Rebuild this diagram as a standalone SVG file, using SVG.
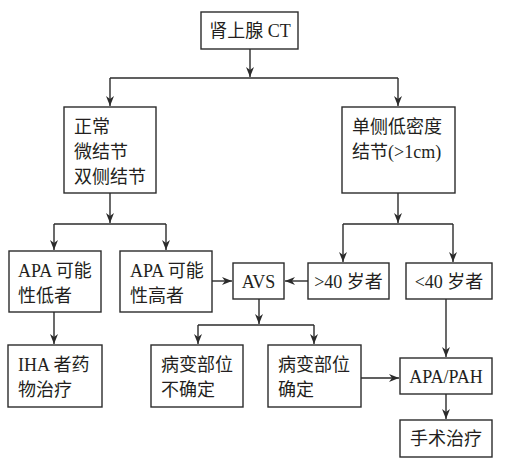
<svg xmlns="http://www.w3.org/2000/svg" width="507" height="467" viewBox="0 0 507 467">
<style>
  .box { fill: #ffffff; stroke: #2b2b2b; stroke-width: 1.4; }
  .ln { fill: none; stroke: #2b2b2b; stroke-width: 1.4; }
  .t { font-family: "Liberation Serif", "Noto Sans CJK SC", serif; font-size: 18px; fill: #231f20; }
  .c { text-anchor: middle; }
</style>
<defs>
  <marker id="ah" viewBox="0 0 10 8" refX="10" refY="4" markerWidth="10" markerHeight="8" markerUnits="userSpaceOnUse" orient="auto">
    <path d="M0,0 L10,4 L0,8 L3,4 Z" fill="#2b2b2b"/>
  </marker>
</defs>
<rect width="507" height="467" fill="#ffffff"/>
<g id="connectors">
  <path class="ln" d="M250,49 V77" marker-end="url(#ah)"/>
  <path class="ln" d="M110,78 H398"/>
  <path class="ln" d="M110,78 V106" marker-end="url(#ah)"/>
  <path class="ln" d="M398,78 V106" marker-end="url(#ah)"/>
  <path class="ln" d="M110,193 V223" marker-end="url(#ah)"/>
  <path class="ln" d="M54,224 H166"/>
  <path class="ln" d="M54,224 V250" marker-end="url(#ah)"/>
  <path class="ln" d="M166,224 V250" marker-end="url(#ah)"/>
  <path class="ln" d="M398,193 V223" marker-end="url(#ah)"/>
  <path class="ln" d="M343,224 H453"/>
  <path class="ln" d="M343,224 V262" marker-end="url(#ah)"/>
  <path class="ln" d="M453,224 V262" marker-end="url(#ah)"/>
  <path class="ln" d="M212,281 H232" marker-end="url(#ah)"/>
  <path class="ln" d="M308,281 H285" marker-end="url(#ah)"/>
  <path class="ln" d="M259,299 V324" marker-end="url(#ah)"/>
  <path class="ln" d="M198,325 H314"/>
  <path class="ln" d="M198,325 V344" marker-end="url(#ah)"/>
  <path class="ln" d="M314,325 V344" marker-end="url(#ah)"/>
  <path class="ln" d="M54,312 V344" marker-end="url(#ah)"/>
  <path class="ln" d="M446,299 V357" marker-end="url(#ah)"/>
  <path class="ln" d="M361,378 H399" marker-end="url(#ah)"/>
  <path class="ln" d="M446,394 V419" marker-end="url(#ah)"/>
</g>
<g id="n-ct">
  <rect class="box" x="201" y="12" width="97" height="37"/>
  <text class="t c" x="250" y="37">肾上腺 CT</text>
</g>
<g id="n-normal">
  <rect class="box" x="64" y="107" width="92" height="86"/>
  <text class="t" x="74" y="133">正常</text>
  <text class="t" x="74" y="158">微结节</text>
  <text class="t" x="74" y="183">双侧结节</text>
</g>
<g id="n-unilateral">
  <rect class="box" x="342" y="107" width="113" height="86"/>
  <text class="t" x="352" y="133">单侧低密度</text>
  <text class="t" x="352" y="158">结节(&gt;1cm)</text>
</g>
<g id="n-apa-low">
  <rect class="box" x="9" y="251" width="92" height="61"/>
  <text class="t" x="18" y="277">APA 可能</text>
  <text class="t" x="18" y="302">性低者</text>
</g>
<g id="n-apa-high">
  <rect class="box" x="120" y="251" width="92" height="61"/>
  <text class="t" x="130" y="277">APA 可能</text>
  <text class="t" x="130" y="302">性高者</text>
</g>
<g id="n-avs">
  <rect class="box" x="233" y="263" width="51" height="36"/>
  <text class="t c" x="258.5" y="288">AVS</text>
</g>
<g id="n-gt40">
  <rect class="box" x="308" y="263" width="81" height="36"/>
  <text class="t c" x="348.5" y="288">&gt;40 岁者</text>
</g>
<g id="n-lt40">
  <rect class="box" x="406" y="263" width="86" height="36"/>
  <text class="t c" x="449" y="288">&lt;40 岁者</text>
</g>
<g id="n-iha">
  <rect class="box" x="8" y="345" width="94" height="62"/>
  <text class="t" x="18" y="371">IHA 者药</text>
  <text class="t" x="18" y="396">物治疗</text>
</g>
<g id="n-uncertain">
  <rect class="box" x="151" y="345" width="92" height="62"/>
  <text class="t" x="161" y="371">病变部位</text>
  <text class="t" x="161" y="396">不确定</text>
</g>
<g id="n-certain">
  <rect class="box" x="268" y="345" width="93" height="62"/>
  <text class="t" x="278" y="371">病变部位</text>
  <text class="t" x="278" y="396">确定</text>
</g>
<g id="n-apapah">
  <rect class="box" x="400" y="358" width="92" height="36"/>
  <text class="t c" x="446" y="383">APA/PAH</text>
</g>
<g id="n-surgery">
  <rect class="box" x="400" y="420" width="92" height="37"/>
  <text class="t c" x="446" y="445">手术治疗</text>
</g>
</svg>
